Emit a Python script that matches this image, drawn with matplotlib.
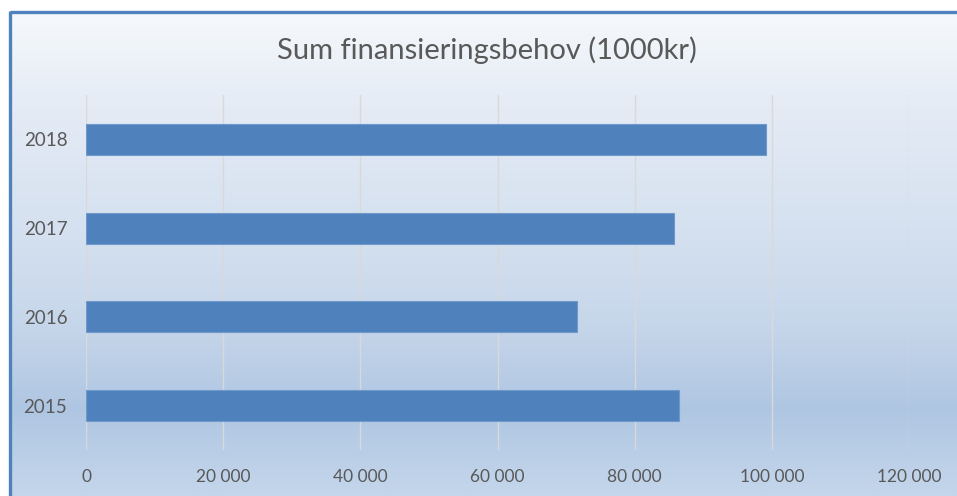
import numpy as np
import matplotlib
matplotlib.use("Agg")
import matplotlib.pyplot as plt
from matplotlib.colors import LinearSegmentedColormap

#------------------------------------------------------------------------#
# data
#------------------------------------------------------------------------#
years = ['2015', '2016', '2017', '2018']
values = [86500, 71600, 85800, 99100]
xticks = [0, 20000, 40000, 60000, 80000, 100000, 120000]
xlabels = ['0', '20 000', '40 000', '60 000', '80 000', '100 000', '120 000']
title = 'Sum finansieringsbehov (1000kr)'

plt.rcParams['font.family'] = ['Lato', 'DejaVu Sans']
txt = '#595959'
bar_col = '#4F81BD'

W, H = 957, 496
fig = plt.figure(figsize=(W/100, H/100), dpi=100)
fig.patch.set_facecolor('white')

########### background gradient + border ################
bg = fig.add_axes([0, 0, 1, 1])
bg.set_xlim(0, W); bg.set_ylim(H, 0); bg.axis('off')
stops = [(0.0, '#F6F9FC'), (0.2, '#E4EBF5'), (0.45, '#D5E1F0'),
         (0.65, '#C6D6EA'), (0.82, '#AFC6E2'), (1.0, '#C4D6EB')]
cmap = LinearSegmentedColormap.from_list('bgrad', stops)
grad = np.linspace(0, 1, 256).reshape(-1, 1)
bg.imshow(grad, cmap=cmap, aspect='auto', extent=[10, W, H, 12], zorder=0)
bg.plot([9.5, 9.5], [H, 11], color=bar_col, lw=2.4, solid_capstyle='butt', zorder=2)
bg.plot([9.5, W], [11.5, 11.5], color=bar_col, lw=2.4, solid_capstyle='butt', zorder=2)

########### bar chart ################
ax = fig.add_axes([86/W, 1-450/H, (909-86)/W, (450-95)/H])
ax.set_facecolor('none')
y = np.arange(len(years))
ax.barh(y, values, height=0.35, color=bar_col, edgecolor='#7099CB', linewidth=0.8, zorder=3)
ax.set_xlim(0, 120000)
ax.set_ylim(-0.5, len(years)-0.5)
ax.set_xticks(xticks)
ax.set_xticklabels(xlabels)
ax.set_yticks(y)
ax.set_yticklabels(years)
ax.grid(axis='x', color='#D9D9D9', linewidth=1.0, zorder=1)
ax.set_axisbelow(True)
for s in ax.spines.values():
    s.set_visible(False)
ax.tick_params(axis='both', length=0, colors=txt)
ax.tick_params(axis='x', pad=14, labelsize=12.5)
ax.tick_params(axis='y', pad=13.5, labelsize=13.5)

fig.text(487/W, 1-50/H, title, ha='center', va='center', fontsize=21, color=txt)

plt.savefig('out.png', dpi=100, facecolor=fig.get_facecolor())
